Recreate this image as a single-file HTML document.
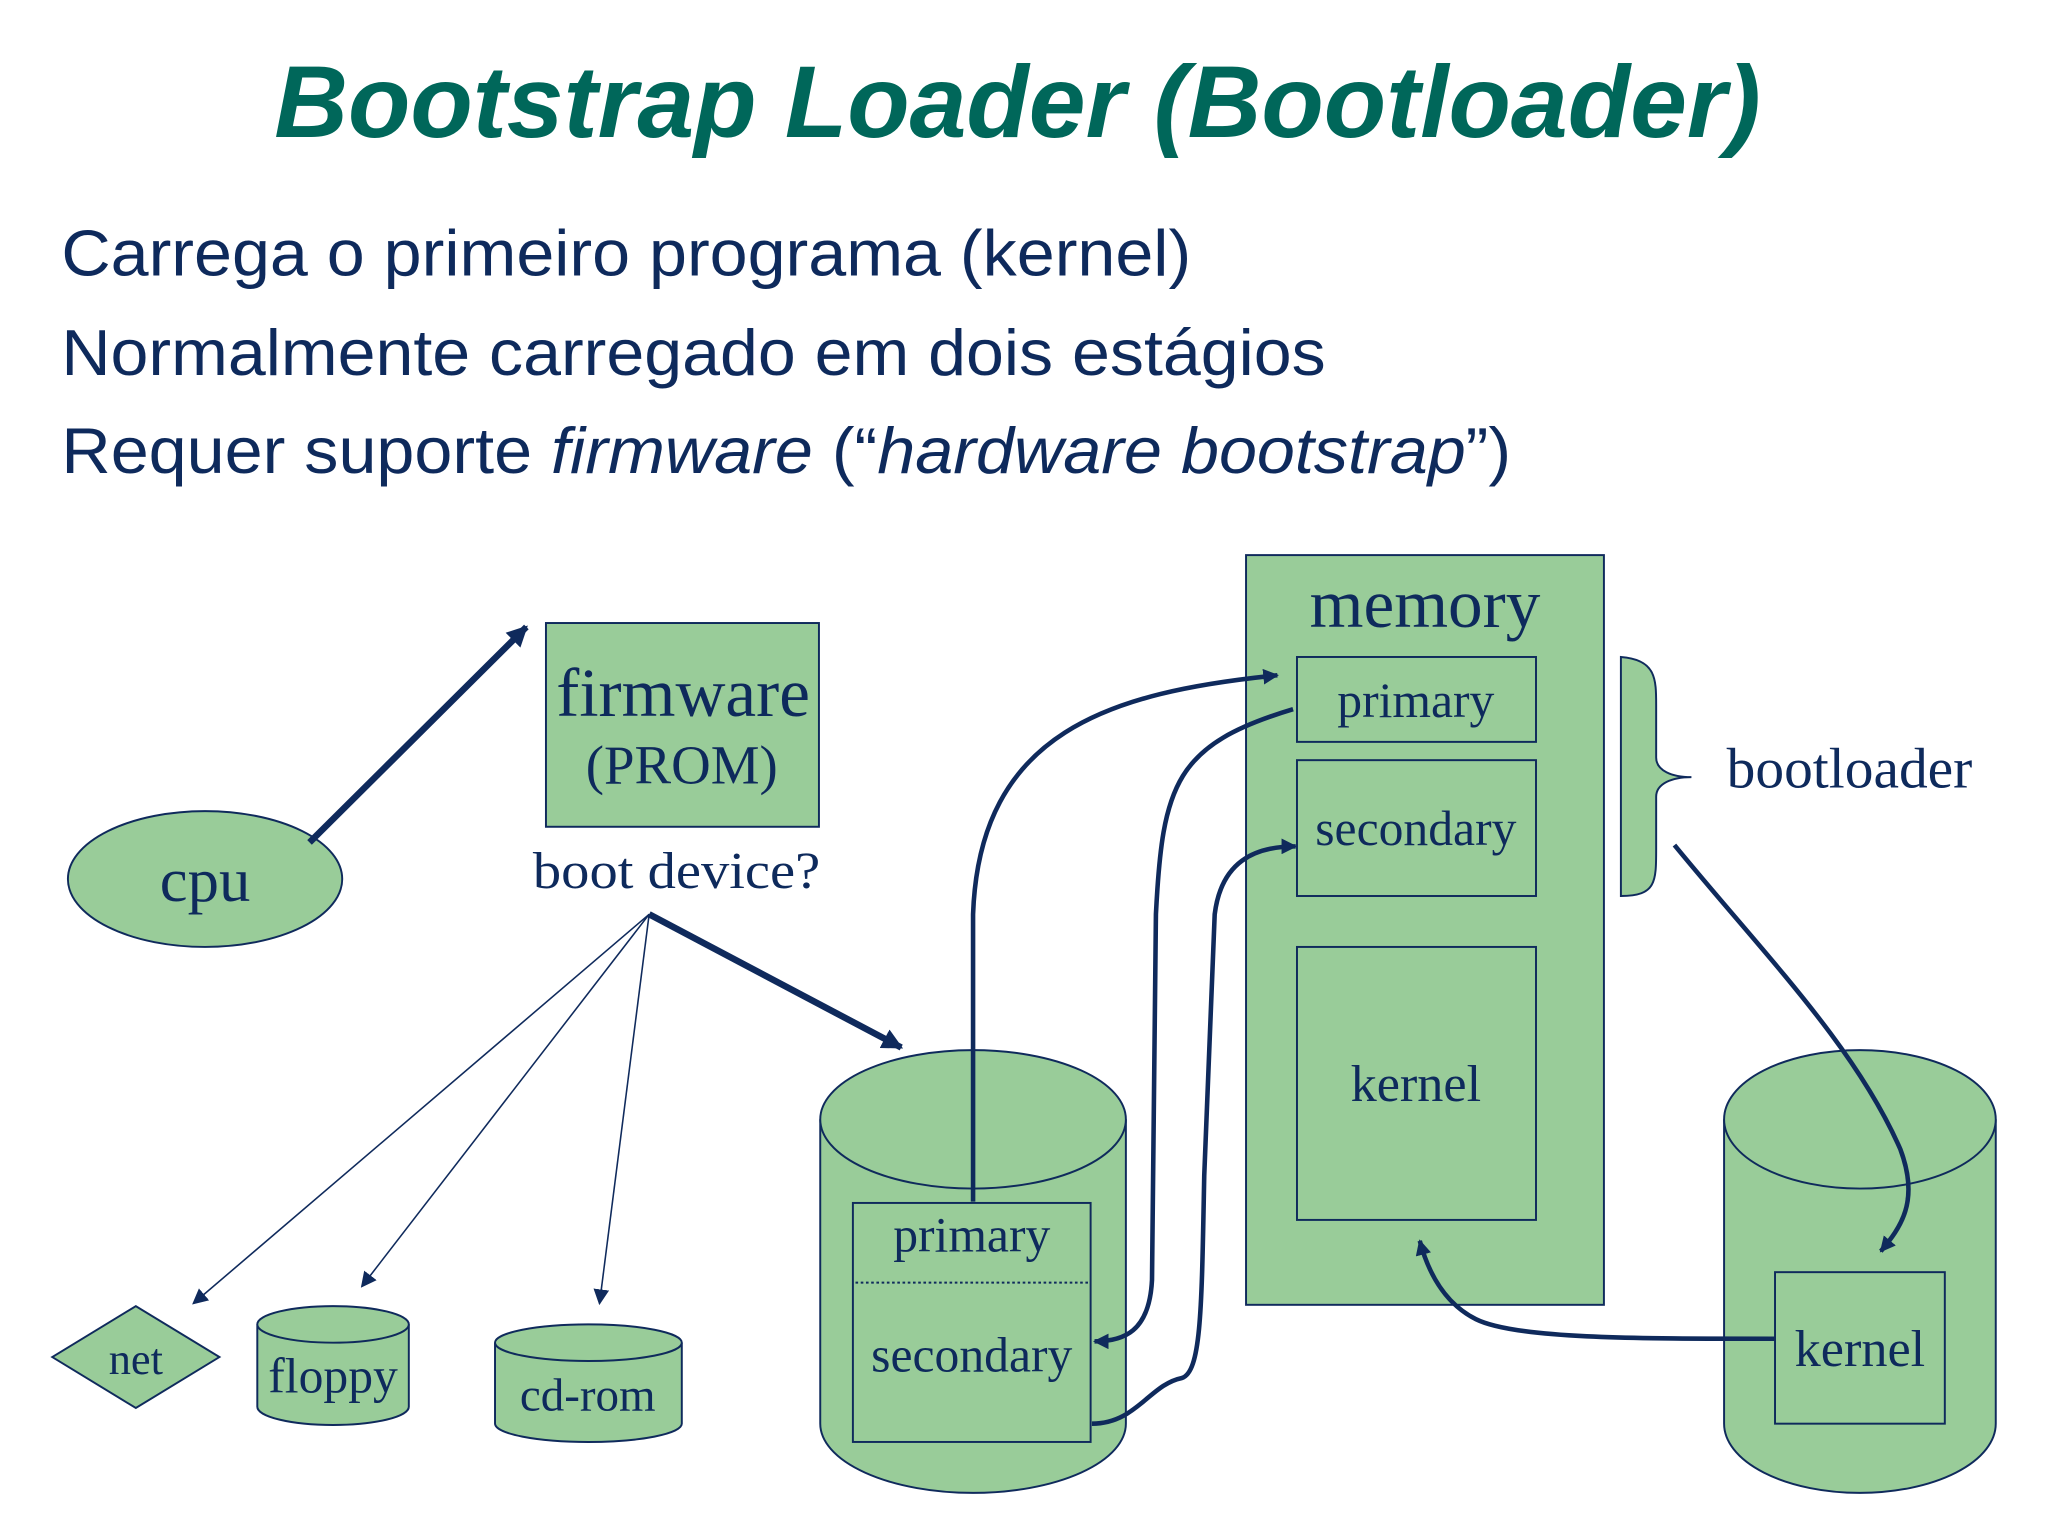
<!DOCTYPE html>
<html><head><meta charset="utf-8"><style>
html,body{margin:0;padding:0;background:#fff;}
svg{display:block;}
</style></head><body>
<svg width="2048" height="1536" viewBox="0 0 1568 1176" xmlns="http://www.w3.org/2000/svg">
<defs>
<marker id="b" viewBox="0 0 10 10" refX="9" refY="5" markerWidth="16" markerHeight="16" orient="auto" markerUnits="userSpaceOnUse">
<path d="M0,0 L10,5 L0,10 z" fill="#0f2a5c"/></marker>
<marker id="c" viewBox="0 0 10 10" refX="9" refY="5" markerWidth="12" markerHeight="12" orient="auto" markerUnits="userSpaceOnUse">
<path d="M0,0 L10,5 L0,10 z" fill="#0f2a5c"/></marker>
</defs>
<rect width="1568" height="1176" fill="#fff"/>
<text x="779" y="105" text-anchor="middle" font-family="Liberation Sans, sans-serif" font-weight="bold" font-style="italic" font-size="78" fill="#00675a" textLength="1138" lengthAdjust="spacingAndGlyphs">Bootstrap Loader (Bootloader)</text>
<g font-family="Liberation Sans, sans-serif" font-size="50" fill="#0e2a5c" lengthAdjust="spacingAndGlyphs">
<text x="47" y="211" textLength="865" lengthAdjust="spacingAndGlyphs">Carrega o primeiro programa (kernel)</text>
<text x="47" y="287" textLength="968" lengthAdjust="spacingAndGlyphs">Normalmente carregado em dois estágios</text>
<text x="47" y="362" textLength="1110" lengthAdjust="spacingAndGlyphs">Requer suporte <tspan font-style="italic">firmware</tspan> (“<tspan font-style="italic">hardware bootstrap</tspan>”)</text>
</g>
<g stroke="#0f2a5c" stroke-width="1.5" fill="#99cc99">
<ellipse cx="157" cy="673" rx="105" ry="52"/>
<rect x="418" y="477" width="209" height="156"/>
<polygon points="40,1039 104,1000 168,1039 104,1078"/>
<path d="M197,1014 L197,1077 A58,14 0 0 0 313,1077 L313,1014"/>
<ellipse cx="255" cy="1014" rx="58" ry="14"/>
<path d="M379,1028 L379,1090 A71.5,14 0 0 0 522,1090 L522,1028"/>
<ellipse cx="450.5" cy="1028" rx="71.5" ry="14"/>
<path d="M628,857 L628,1090 A117,53 0 0 0 862,1090 L862,857"/>
<ellipse cx="745" cy="857" rx="117" ry="53"/>
<rect x="653" y="921" width="182" height="183"/>
<rect x="954" y="425" width="274" height="574"/>
<rect x="993" y="503" width="183" height="65"/>
<rect x="993" y="582" width="183" height="104"/>
<rect x="993" y="725" width="183" height="209"/>
<path d="M1241,503 C1268,505 1268,520 1268,540 L1268,580 C1268,590 1280,595 1295,595 C1280,595 1268,600 1268,610 L1268,650 C1268,675 1268,686 1241,686 Z"/>
<path d="M1320,857 L1320,1090 A104,53 0 0 0 1528,1090 L1528,857"/>
<ellipse cx="1424" cy="857" rx="104" ry="53"/>
<rect x="1359" y="974" width="130" height="116"/>
</g>
<line x1="655" y1="982" x2="833" y2="982" stroke="#0f2a5c" stroke-width="1.5" stroke-dasharray="2,2"/>
<g font-family="Liberation Serif, serif" fill="#0e2a5c" text-anchor="middle">
<text x="157" y="690" font-size="48">cpu</text>
<text x="523" y="548" font-size="53">firmware</text>
<text x="522" y="600" font-size="42">(PROM)</text>
<text x="518" y="680" font-size="40" textLength="220" lengthAdjust="spacingAndGlyphs">boot device?</text>
<text x="104" y="1052" font-size="34">net</text>
<text x="255" y="1066" font-size="38">floppy</text>
<text x="450" y="1080" font-size="36">cd-rom</text>
<text x="744" y="958" font-size="38">primary</text>
<text x="744" y="1050" font-size="38">secondary</text>
<text x="1091" y="480" font-size="53">memory</text>
<text x="1084" y="549" font-size="38">primary</text>
<text x="1084" y="647" font-size="38">secondary</text>
<text x="1084" y="843" font-size="40">kernel</text>
<text x="1416" y="603" font-size="44">bootloader</text>
<text x="1424" y="1046" font-size="40">kernel</text>
</g>
<g stroke="#0f2a5c" fill="none">
<line x1="237" y1="645" x2="403" y2="480" stroke-width="5" marker-end="url(#b)"/>
<line x1="497" y1="700" x2="148" y2="998" stroke-width="1.2" marker-end="url(#c)"/>
<line x1="497" y1="700" x2="277" y2="985" stroke-width="1.2" marker-end="url(#c)"/>
<line x1="497" y1="700" x2="459" y2="998" stroke-width="1.2" marker-end="url(#c)"/>
<line x1="497" y1="700" x2="690" y2="802" stroke-width="5" marker-end="url(#b)"/>
<g stroke-width="3.5" marker-end="url(#c)">
<path d="M745,920 L745,700 C750,560 850,530 978,517"/>
<path d="M990,543 C900,570 890,600 885,700 L882,980 C880,1020 860,1027 838,1027"/>
<path d="M836,1090 C870,1090 880,1060 905,1055 C920,1050 920,1000 922,900 L930,700 C935,660 960,648 992,648"/>
<path d="M1282,647 C1350,730 1420,800 1455,880 C1470,920 1455,940 1440,958"/>
<path d="M1359,1025 C1250,1025 1160,1025 1130,1010 C1110,1000 1095,980 1087,950"/>
</g>
</g>
</svg>
</body></html>
